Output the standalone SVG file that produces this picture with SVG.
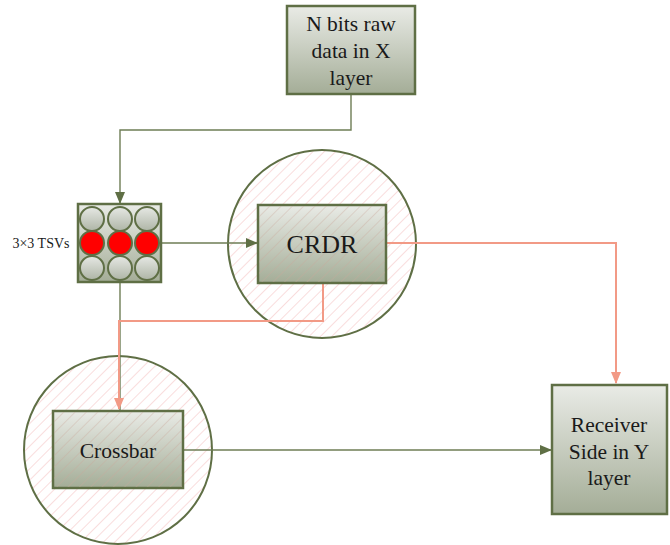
<svg xmlns="http://www.w3.org/2000/svg" width="670" height="545" viewBox="0 0 670 545">
  <style>
    .box { fill: url(#boxGrad); stroke: #5f6f45; stroke-width: 2.5; }
    .veil { fill: url(#hatchLines); stroke: none; opacity: 0.6; }
    .zone { fill: url(#hatch); stroke: #5f6f45; stroke-width: 2; }
    .lbl { font-family: "Liberation Serif", "Times New Roman", serif; fill: #1a1a1a; text-anchor: middle; }
    .g { fill: none; stroke: #6e7d55; stroke-width: 1.4; }
    .o { fill: none; stroke: #f29a86; stroke-width: 2; }
    .tsv { fill: url(#ballGrad); stroke: #5f6f45; stroke-width: 2; }
    .tsv-on { fill: #ff0000; stroke: #5f6f45; stroke-width: 2; }
  </style>
  <defs>
    <linearGradient id="boxGrad" x1="0" y1="0" x2="0" y2="1">
      <stop offset="0" stop-color="#e9ebe6"/>
      <stop offset="1" stop-color="#a4ad97"/>
    </linearGradient>
    <linearGradient id="ballGrad" x1="0" y1="0" x2="0" y2="1">
      <stop offset="0" stop-color="#e6e8e4"/>
      <stop offset="1" stop-color="#aeb5a6"/>
    </linearGradient>
    <pattern id="hatch" patternUnits="userSpaceOnUse" width="8" height="8" patternTransform="rotate(45)">
      <rect width="8" height="8" fill="#ffffff"/>
      <line x1="0" y1="0" x2="0" y2="8" stroke="#f5c6c6" stroke-width="1.2"/>
    </pattern>
    <pattern id="hatchLines" patternUnits="userSpaceOnUse" width="8" height="8" patternTransform="rotate(45)">
      <line x1="0" y1="0" x2="0" y2="8" stroke="#c9a79a" stroke-width="1.2"/>
    </pattern>
    <marker id="arrG" markerWidth="12" markerHeight="10" refX="11" refY="5" orient="auto" markerUnits="userSpaceOnUse">
      <path d="M0,0 L12,5 L0,10 Z" fill="#5f6f45"/>
    </marker>
    <marker id="arrO" markerWidth="12" markerHeight="10" refX="11" refY="5" orient="auto" markerUnits="userSpaceOnUse">
      <path d="M0,0 L12,5 L0,10 Z" fill="#f29a86"/>
    </marker>
  </defs>

  <!-- hatched zones -->
  <g id="crdr-zone"><circle class="zone" cx="322" cy="244" r="94"/></g>
  <g id="crossbar-zone"><circle class="zone" cx="118" cy="450" r="94"/></g>

  <!-- connectors -->
  <g id="connectors">
    <path class="g" d="M351,95 V130 H120 V203" marker-end="url(#arrG)"/>
    <path class="g" d="M161,243 H257" marker-end="url(#arrG)"/>
    <path class="g" d="M120,282 V410"/>
    <path class="g" d="M183,450 H551" marker-end="url(#arrG)"/>
    <path class="o" d="M386,243 H616 V383" marker-end="url(#arrO)"/>
    <path class="o" d="M323,283 V321 H119 V409" marker-end="url(#arrO)"/>
  </g>

  <g id="raw-data">
    <rect class="box" x="287" y="6" width="128" height="88"/>
    <text class="lbl" font-size="21.5" x="351" y="31">N bits raw</text>
    <text class="lbl" font-size="21.5" x="351" y="58">data in X</text>
    <text class="lbl" font-size="21.5" x="351" y="85">layer</text>
  </g>

  <g id="tsv-array">
    <rect class="box" x="78" y="204" width="83" height="78"/>
    <circle class="tsv" cx="92" cy="219" r="12"/>
    <circle class="tsv" cx="120" cy="219" r="12"/>
    <circle class="tsv" cx="147" cy="219" r="12"/>
    <circle class="tsv-on" cx="92" cy="243" r="12"/>
    <circle class="tsv-on" cx="120" cy="243" r="12"/>
    <circle class="tsv-on" cx="147" cy="243" r="12"/>
    <circle class="tsv" cx="92" cy="268" r="12"/>
    <circle class="tsv" cx="120" cy="268" r="12"/>
    <circle class="tsv" cx="147" cy="268" r="12"/>
    <text class="lbl" font-size="14" x="41" y="248">3×3 TSVs</text>
  </g>

  <g id="crdr">
    <rect class="box" x="258" y="205" width="128" height="78"/>
    <rect class="veil" x="259" y="206" width="126" height="76"/>
    <text class="lbl" font-size="26" x="322" y="253">CRDR</text>
  </g>

  <g id="crossbar">
    <rect class="box" x="53" y="411" width="130" height="77"/>
    <rect class="veil" x="54" y="412" width="128" height="75"/>
    <text class="lbl" font-size="21.5" x="118" y="458">Crossbar</text>
  </g>

  <g id="receiver">
    <rect class="box" x="552" y="385" width="115" height="129"/>
    <text class="lbl" font-size="21.5" x="609" y="432">Receiver</text>
    <text class="lbl" font-size="21.5" x="609" y="459">Side in Y</text>
    <text class="lbl" font-size="21.5" x="609" y="485">layer</text>
  </g>
</svg>
